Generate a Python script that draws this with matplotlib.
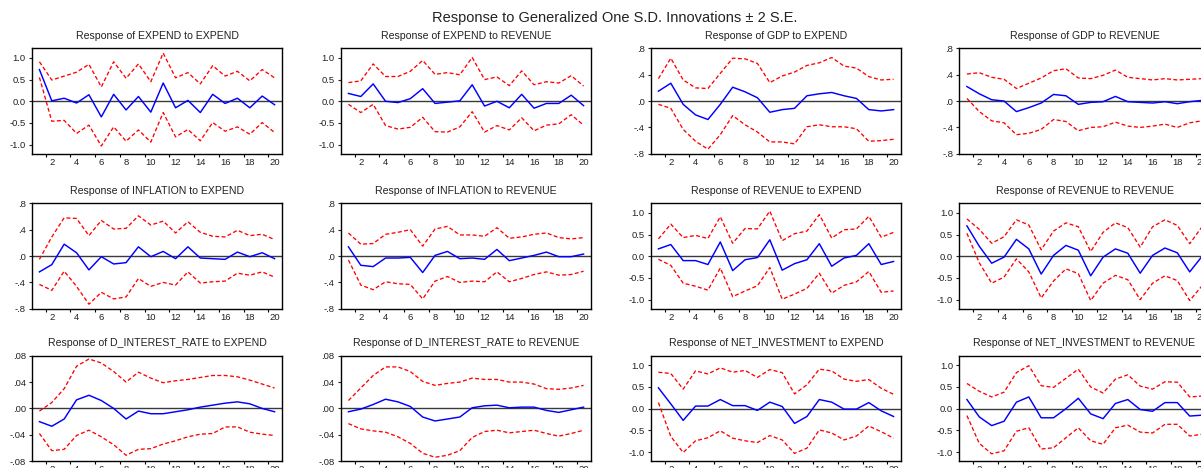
import numpy as np
import matplotlib.pyplot as plt
from matplotlib.ticker import FuncFormatter

plt.rcParams['font.family'] = ['Liberation Sans', 'DejaVu Sans']

periods = list(range(1, 21))

titles = ['Response of EXPEND to EXPEND', 'Response of EXPEND to REVENUE',
          'Response of GDP to EXPEND', 'Response of GDP to REVENUE',
          'Response of INFLATION to EXPEND', 'Response of INFLATION to REVENUE',
          'Response of REVENUE to EXPEND', 'Response of REVENUE to REVENUE',
          'Response of D_INTEREST_RATE to EXPEND', 'Response of D_INTEREST_RATE to REVENUE',
          'Response of NET_INVESTMENT to EXPEND', 'Response of NET_INVESTMENT to REVENUE']

# EXPEND <- EXPEND
exp_exp = [0.73, 0.01, 0.07, -0.04, 0.15, -0.36, 0.16, -0.20, 0.11, -0.25,
           0.42, -0.15, 0.02, -0.26, 0.16, -0.05, 0.07, -0.15, 0.12, -0.08]
exp_exp_hi = [0.91, 0.49, 0.58, 0.67, 0.85, 0.33, 0.91, 0.53, 0.86, 0.45,
              1.11, 0.54, 0.66, 0.40, 0.82, 0.58, 0.69, 0.47, 0.73, 0.54]
exp_exp_lo = [0.55, -0.46, -0.44, -0.74, -0.55, -1.03, -0.59, -0.92, -0.66, -0.94,
              -0.26, -0.82, -0.65, -0.91, -0.49, -0.69, -0.59, -0.76, -0.49, -0.72]

# EXPEND <- REVENUE
exp_rev = [0.18, 0.11, 0.40, 0.00, -0.03, 0.06, 0.29, -0.05, -0.02, 0.01,
           0.38, -0.11, 0.00, -0.15, 0.16, -0.16, -0.05, -0.05, 0.14, -0.10]
exp_rev_hi = [0.43, 0.47, 0.86, 0.57, 0.57, 0.69, 0.94, 0.62, 0.66, 0.61,
              1.01, 0.50, 0.56, 0.36, 0.70, 0.38, 0.45, 0.42, 0.59, 0.35]
exp_rev_lo = [-0.07, -0.26, -0.07, -0.56, -0.64, -0.60, -0.37, -0.70, -0.71, -0.59,
              -0.24, -0.71, -0.56, -0.66, -0.38, -0.68, -0.55, -0.52, -0.31, -0.55]

# GDP <- EXPEND
gdp_exp = [0.15, 0.27, -0.05, -0.21, -0.28, -0.05, 0.21, 0.14, 0.05, -0.17,
           -0.13, -0.11, 0.08, 0.11, 0.13, 0.08, 0.04, -0.13, -0.15, -0.13]
gdp_exp_hi = [0.34, 0.65, 0.32, 0.20, 0.19, 0.42, 0.65, 0.64, 0.57, 0.28,
              0.38, 0.44, 0.54, 0.58, 0.66, 0.53, 0.50, 0.37, 0.32, 0.33]
gdp_exp_lo = [-0.05, -0.11, -0.43, -0.61, -0.73, -0.51, -0.22, -0.36, -0.47, -0.62,
              -0.62, -0.65, -0.39, -0.36, -0.39, -0.39, -0.42, -0.61, -0.60, -0.58]

# GDP <- REVENUE
gdp_rev = [0.22, 0.11, 0.02, 0.00, -0.16, -0.10, -0.03, 0.10, 0.08, -0.05,
           -0.02, -0.01, 0.07, -0.01, -0.02, -0.03, -0.01, -0.04, -0.01, 0.01]
gdp_rev_hi = [0.41, 0.43, 0.36, 0.33, 0.19, 0.27, 0.35, 0.46, 0.49, 0.35,
              0.34, 0.39, 0.47, 0.36, 0.34, 0.32, 0.34, 0.32, 0.33, 0.34]
gdp_rev_lo = [0.04, -0.16, -0.30, -0.33, -0.51, -0.49, -0.43, -0.28, -0.31, -0.45,
              -0.40, -0.39, -0.32, -0.38, -0.40, -0.38, -0.35, -0.40, -0.33, -0.30]

# INFLATION <- EXPEND
inf_exp = [-0.24, -0.13, 0.18, 0.05, -0.21, -0.01, -0.12, -0.10, 0.14, -0.01,
           0.07, -0.04, 0.14, -0.03, -0.04, -0.05, 0.06, -0.01, 0.05, -0.04]
inf_exp_hi = [-0.05, 0.29, 0.58, 0.57, 0.31, 0.54, 0.41, 0.42, 0.61, 0.47,
              0.53, 0.35, 0.52, 0.36, 0.30, 0.29, 0.39, 0.31, 0.33, 0.25]
inf_exp_lo = [-0.43, -0.52, -0.23, -0.46, -0.73, -0.55, -0.65, -0.62, -0.34, -0.46,
              -0.40, -0.44, -0.24, -0.41, -0.39, -0.38, -0.26, -0.29, -0.24, -0.32]

# INFLATION <- REVENUE
inf_rev = [0.14, -0.14, -0.16, -0.03, -0.03, -0.02, -0.25, 0.01, 0.07, -0.04,
           -0.03, -0.05, 0.10, -0.07, -0.03, 0.01, 0.06, -0.01, -0.01, 0.03]
inf_rev_hi = [0.35, 0.18, 0.19, 0.33, 0.36, 0.40, 0.15, 0.41, 0.45, 0.32,
              0.32, 0.30, 0.43, 0.27, 0.29, 0.33, 0.35, 0.28, 0.26, 0.28]
inf_rev_lo = [-0.06, -0.44, -0.51, -0.39, -0.42, -0.43, -0.65, -0.38, -0.31, -0.40,
              -0.38, -0.39, -0.24, -0.39, -0.34, -0.28, -0.24, -0.29, -0.28, -0.23]

# REVENUE <- EXPEND
rev_exp = [0.17, 0.27, -0.10, -0.10, -0.19, 0.33, -0.33, -0.08, -0.03, 0.38,
           -0.32, -0.17, -0.08, 0.29, -0.23, -0.04, 0.02, 0.29, -0.19, -0.12]
rev_exp_hi = [0.40, 0.74, 0.43, 0.48, 0.41, 0.91, 0.30, 0.64, 0.63, 1.04,
              0.36, 0.52, 0.58, 0.96, 0.42, 0.61, 0.63, 0.92, 0.44, 0.55]
rev_exp_lo = [-0.07, -0.21, -0.62, -0.69, -0.78, -0.27, -0.93, -0.80, -0.68, -0.26,
              -0.99, -0.87, -0.74, -0.39, -0.85, -0.67, -0.59, -0.35, -0.83, -0.80]

# REVENUE <- REVENUE
rev_rev = [0.70, 0.23, -0.16, -0.02, 0.39, 0.17, -0.41, 0.02, 0.25, 0.14,
           -0.45, -0.02, 0.17, 0.07, -0.39, 0.02, 0.19, 0.08, -0.36, 0.00]
rev_rev_hi = [0.86, 0.62, 0.30, 0.45, 0.84, 0.72, 0.15, 0.58, 0.77, 0.68,
              0.11, 0.55, 0.77, 0.66, 0.21, 0.68, 0.84, 0.71, 0.29, 0.68]
rev_rev_lo = [0.53, -0.15, -0.62, -0.48, -0.06, -0.36, -0.96, -0.57, -0.29, -0.40,
              -1.02, -0.62, -0.44, -0.54, -1.00, -0.62, -0.45, -0.56, -1.02, -0.68]

# D_INTEREST_RATE <- EXPEND
int_exp = [-0.020, -0.027, -0.016, 0.013, 0.020, 0.012, 0.000, -0.016, -0.004, -0.008,
           -0.008, -0.005, -0.002, 0.002, 0.005, 0.008, 0.010, 0.007, 0.000, -0.005]
int_exp_hi = [-0.004, 0.009, 0.030, 0.064, 0.075, 0.069, 0.056, 0.040, 0.055, 0.046,
              0.039, 0.042, 0.044, 0.047, 0.050, 0.050, 0.048, 0.043, 0.037, 0.031]
int_exp_lo = [-0.038, -0.064, -0.062, -0.041, -0.033, -0.043, -0.055, -0.071, -0.062, -0.061,
              -0.054, -0.049, -0.043, -0.039, -0.038, -0.028, -0.028, -0.036, -0.039, -0.041]

# D_INTEREST_RATE <- REVENUE
int_rev = [-0.005, -0.001, 0.006, 0.014, 0.010, 0.003, -0.013, -0.019, -0.016, -0.013,
           0.001, 0.004, 0.005, 0.001, 0.002, 0.002, -0.003, -0.006, -0.002, 0.002]
int_rev_hi = [0.012, 0.031, 0.050, 0.063, 0.063, 0.056, 0.041, 0.035, 0.038, 0.040,
              0.046, 0.044, 0.044, 0.040, 0.040, 0.037, 0.030, 0.029, 0.031, 0.035]
int_rev_lo = [-0.023, -0.031, -0.034, -0.036, -0.043, -0.053, -0.068, -0.074, -0.071, -0.064,
              -0.044, -0.035, -0.033, -0.037, -0.035, -0.033, -0.038, -0.042, -0.038, -0.033]

# NET_INVESTMENT <- EXPEND
inv_exp = [0.48, 0.11, -0.27, 0.06, 0.06, 0.21, 0.07, 0.07, -0.04, 0.15,
           0.05, -0.34, -0.18, 0.21, 0.15, -0.01, -0.01, 0.14, -0.05, -0.18]
inv_exp_hi = [0.84, 0.81, 0.45, 0.87, 0.80, 0.94, 0.84, 0.88, 0.72, 0.90,
              0.83, 0.34, 0.55, 0.91, 0.87, 0.68, 0.63, 0.67, 0.47, 0.33]
inv_exp_lo = [0.14, -0.64, -1.01, -0.74, -0.67, -0.51, -0.68, -0.74, -0.78, -0.62,
              -0.72, -1.03, -0.91, -0.49, -0.56, -0.72, -0.63, -0.40, -0.53, -0.68]

# NET_INVESTMENT <- REVENUE
inv_rev = [0.21, -0.19, -0.39, -0.29, 0.15, 0.27, -0.21, -0.21, 0.00, 0.24,
           -0.12, -0.23, 0.12, 0.21, -0.02, -0.06, 0.14, 0.14, -0.17, -0.15]
inv_rev_hi = [0.58, 0.40, 0.27, 0.38, 0.83, 0.99, 0.53, 0.49, 0.70, 0.91,
              0.50, 0.36, 0.68, 0.78, 0.52, 0.45, 0.62, 0.61, 0.27, 0.29]
inv_rev_lo = [-0.16, -0.80, -1.04, -0.97, -0.52, -0.44, -0.93, -0.90, -0.67, -0.44,
              -0.74, -0.82, -0.44, -0.38, -0.54, -0.56, -0.36, -0.36, -0.63, -0.59]

responses = [exp_exp, exp_rev, gdp_exp, gdp_rev, inf_exp, inf_rev,
             rev_exp, rev_rev, int_exp, int_rev, inv_exp, inv_rev]
uppers = [exp_exp_hi, exp_rev_hi, gdp_exp_hi, gdp_rev_hi, inf_exp_hi, inf_rev_hi,
          rev_exp_hi, rev_rev_hi, int_exp_hi, int_rev_hi, inv_exp_hi, inv_rev_hi]
lowers = [exp_exp_lo, exp_rev_lo, gdp_exp_lo, gdp_rev_lo, inf_exp_lo, inf_rev_lo,
          rev_exp_lo, rev_rev_lo, int_exp_lo, int_rev_lo, inv_exp_lo, inv_rev_lo]

# scale type per panel: 'one' -> +-1.0, 'p8' -> +-.8, 'p08' -> +-.08
scales = ['one', 'one', 'p8', 'p8',
          'p8', 'p8', 'one', 'one',
          'p08', 'p08', 'one', 'one']


def fmt_one(v, pos):
    return '%.1f' % v


def fmt_nolead(digits):
    def f(v, pos):
        s = ('%.' + str(digits) + 'f') % v
        s = s.replace('0.', '.', 1) if abs(v) < 1 else s
        if s.startswith('-') and abs(v) < 1e-12:
            s = s[1:]
        return s
    return f


W, H = 1201, 468
fig = plt.figure(figsize=(W / 100, H / 100), dpi=100)

col_left = [32, 341, 651, 959.5]
row_top = [48.3, 203.3, 355.7]
ax_w = 250
ax_h = 105.5

for i in range(12):
    r, c = divmod(i, 4)
    left = col_left[c] / W
    bottom = 1 - (row_top[r] + ax_h) / H
    ax = fig.add_axes([left, bottom, ax_w / W, ax_h / H])

    ax.axhline(0, color='#3a3a3a', lw=1.0, zorder=1)
    ax.plot(periods, uppers[i], color='red', lw=0.95, dashes=(3, 1.8), zorder=2)
    ax.plot(periods, lowers[i], color='red', lw=0.95, dashes=(3, 1.8), zorder=2)
    ax.plot(periods, responses[i], color='blue', lw=1.05, zorder=3)

    ax.set_xlim(0.4, 20.6)
    if scales[i] == 'one':
        ax.set_ylim(-1.21, 1.22)
        ax.set_yticks([-1.0, -0.5, 0.0, 0.5, 1.0])
        ax.yaxis.set_major_formatter(FuncFormatter(fmt_one))
    elif scales[i] == 'p8':
        ax.set_ylim(-0.8, 0.8)
        ax.set_yticks([-0.8, -0.4, 0.0, 0.4, 0.8])
        ax.yaxis.set_major_formatter(FuncFormatter(fmt_nolead(1)))
    else:
        ax.set_ylim(-0.08, 0.08)
        ax.set_yticks([-0.08, -0.04, 0.0, 0.04, 0.08])
        ax.yaxis.set_major_formatter(FuncFormatter(fmt_nolead(2)))

    ax.set_xticks(range(2, 21, 2))
    ax.set_xticks(np.arange(1.5, 20.5, 2), minor=True)
    ax.tick_params(axis='x', which='major', length=0, labelsize=6.8, pad=3, colors='#222222')
    ax.tick_params(axis='x', which='minor', length=2.5, width=0.8, direction='out')
    ax.tick_params(axis='y', which='major', length=2.5, width=0.8, labelsize=6.8, pad=2,
                   colors='#222222')
    for s in ax.spines.values():
        s.set_linewidth(1.0)
        s.set_color('black')

    ax.set_title(titles[i], fontsize=7.6, pad=7, color='#222222')

fig.text(615 / W, 1 - 18 / H, 'Response to Generalized One S.D. Innovations \u00b1 2 S.E.',
         ha='center', va='center', fontsize=10.5, color='#222222')

fig.savefig('out.png', dpi=100)
